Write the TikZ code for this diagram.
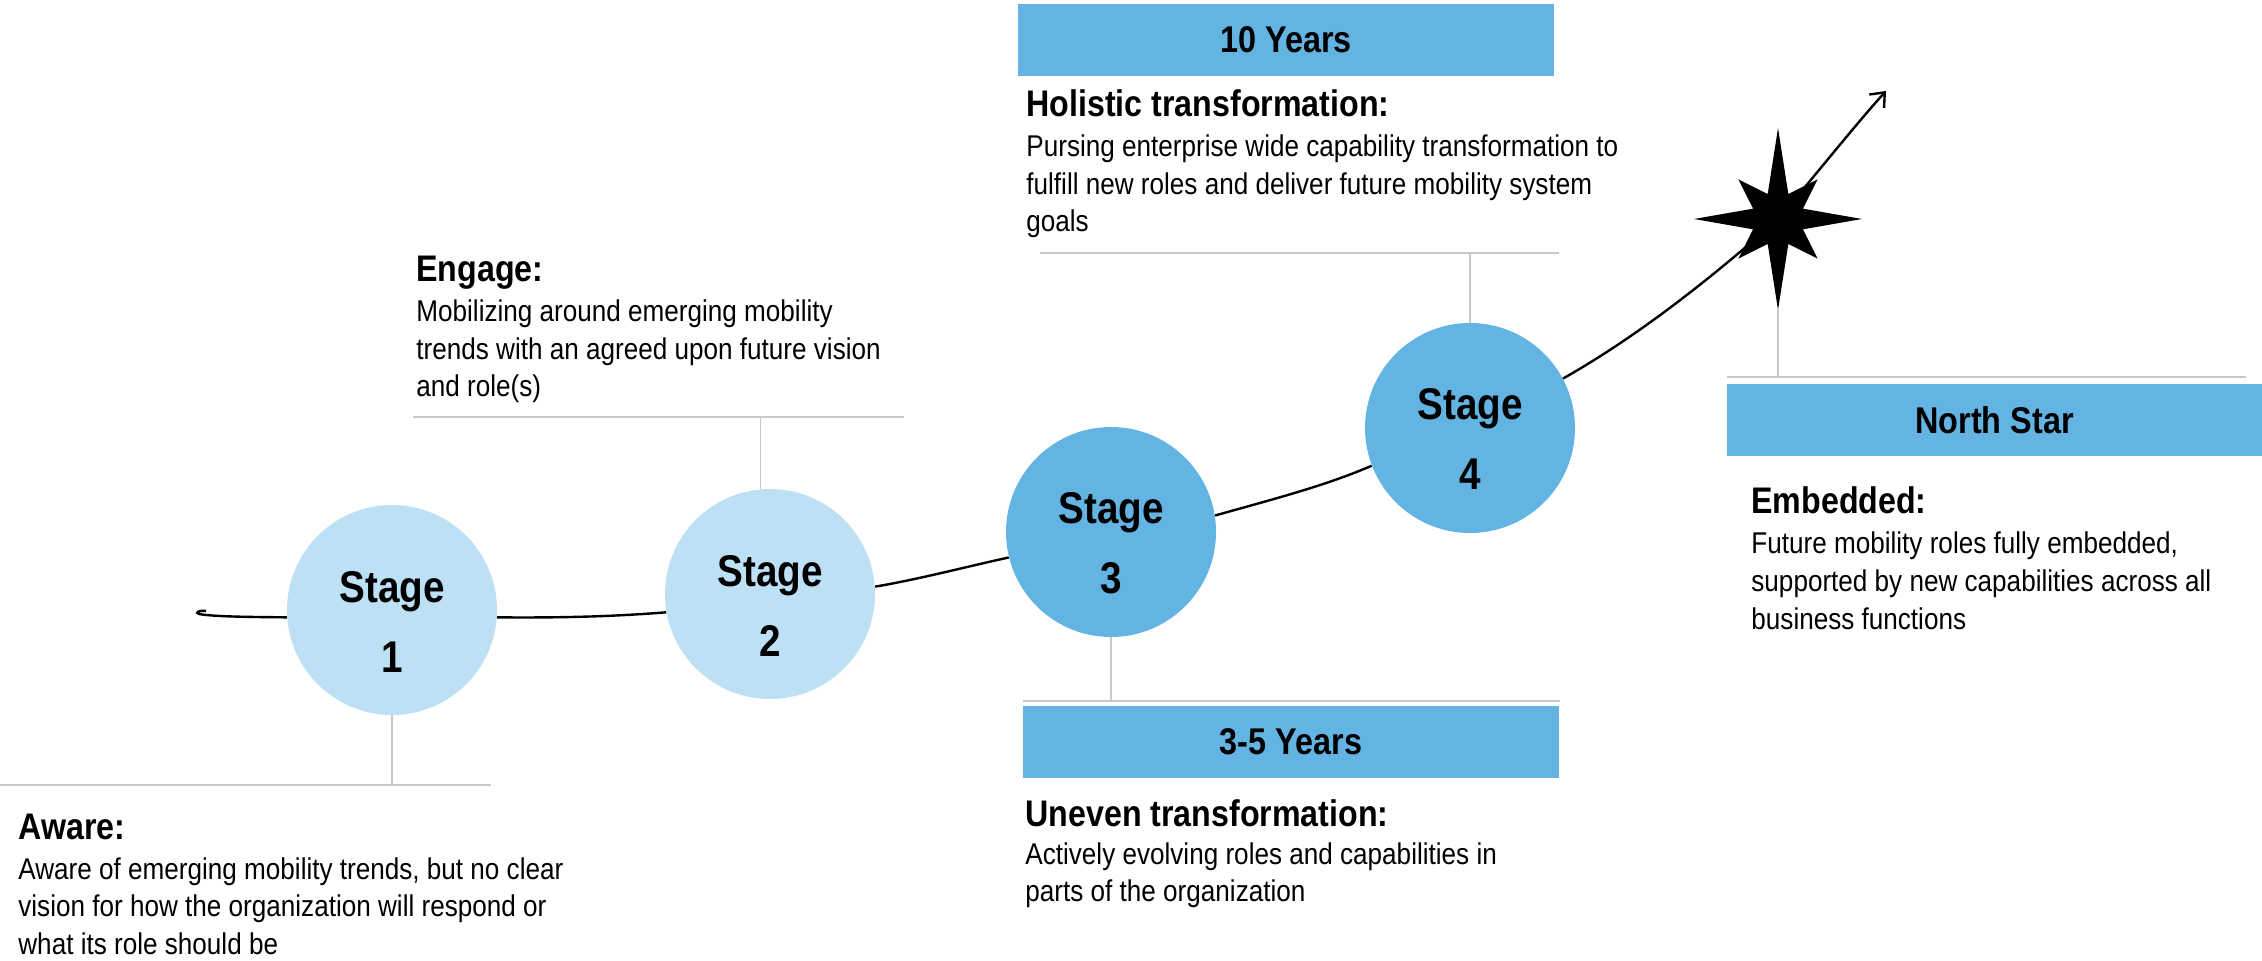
\documentclass[tikz,border=0pt]{standalone}
\usepackage{fontspec}
\setmainfont{Liberation Sans}[FakeStretch=0.87]
\usetikzlibrary{arrows.meta}
\definecolor{stagelight}{RGB}{190,224,245}
\definecolor{stagemid}{RGB}{99,180,227}
\definecolor{rulegray}{RGB}{200,200,200}
\tikzset{
	stage/.style = {circle, minimum size=105pt, inner sep=0pt},
	stagetxt/.style = {anchor=base, align=center, inner sep=0pt, font=\fontsize{22.2}{35}\selectfont\bfseries},
	yearbox/.style = {fill=stagemid, minimum width=268pt, minimum height=36pt, inner sep=0pt, font=\fontsize{18.6}{22}\selectfont\bfseries},
	head/.style = {anchor=base west, inner sep=0pt, font=\fontsize{18.5}{22}\selectfont\bfseries},
	body/.style = {anchor=base west, inner sep=0pt, align=left, font=\fontsize{15}{18.75}\selectfont},
	hrule/.style = {rulegray, line width=1pt},
	vtick/.style = {rulegray, line width=0.6pt},
	trend/.style = {line width=1.2pt},
	northstar/.pic = {
		\fill (0:84) -- (22.5:27) -- (45:56) -- (67.5:27) -- (90:91) -- (112.5:27) --
		      (135:56) -- (157.5:27) -- (180:84) -- (202.5:27) -- (225:56) -- (247.5:27) --
		      (270:91) -- (292.5:27) -- (315:56) -- (337.5:27) -- cycle;
	}
}

\begin{document}
\begin{tikzpicture}[x=0.5pt, y=-0.5pt]
	\useasboundingbox (0,0) rectangle (2262,961);
	\foreach \n/\pos/\col in {1/{392,610}/stagelight, 2/{770,594}/stagelight, 3/{1111,532}/stagemid, 4/{1470,428}/stagemid}
	{
		\node[stage, fill=\col] (s\n) at (\pos) {};
		% base of a two-line node sits on its last line
		\node[stagetxt] (t\n) at ([yshift=-31pt]s\n.center) {Stage\\\n};
	}
	% the trend line
	\coordinate (tail) at (199,614);
	\coordinate (hook) at (206,611);
	\coordinate (star) at (1778,219);
	\coordinate (tip) at (1886,91);
	\draw[trend] (s1.184) .. controls (260,617) and (215,617) .. (tail) .. controls (195,613) and (198,610) .. (hook);
	\draw[trend] (s1.-4) .. controls (570,618) and (620,616) .. (s2.190);
	\draw[trend] (s2.4) .. controls (920,579) and (965,567) .. (s3.194);
	\draw[trend] (s3.9) .. controls (1270,500) and (1325,486) .. (s4.201);
	\draw[trend] (s4.28) .. controls (1640,335) and (1715,275) .. (star);
	\draw[trend, -{Straight Barb[length=6pt, width=10pt]}] (star) .. controls (1805,188) and (1855,125) .. (tip);
	\pic at (star) {northstar};
	% boxes
	\node[yearbox] (ten) at (1286,40) {10 Years};
	\node[yearbox] (threefive) at (1291,741.5) {3-5 Years};
	\node[yearbox, minimum width=267.5pt] (north) at (1994.5,420) {North Star};
	% rules and ticks
	\coordinate (awarerule) at (0,785);
	\coordinate (engrule) at (413,417);
	\coordinate (holrule) at (1040,253);
	\coordinate (unrule) at (1023,701);
	\coordinate (embrule) at (1727,377);
	\draw[hrule] (awarerule) -- ++(491,0);
	\draw[hrule] (engrule) -- ++(491,0);
	\draw[hrule] (holrule) -- ++(519,0);
	\draw[hrule] (unrule) -- ++(537,0);
	\draw[hrule] (embrule) -- ++(519,0);
	\draw[vtick] (s1.south) -- (s1.south |- awarerule);
	\draw[vtick] (s2.95) -- (s2.95 |- engrule);
	\draw[vtick] (s3.south) -- (s3.south |- unrule);
	\draw[vtick] (s4.north) -- (s4.north |- holrule);
	\draw[vtick] (star) ++(0,89) -- (star |- embrule);
	% texts (body nodes placed by their last baseline)
	\node[head] (awarehd) at (18,839) {Aware:};
	\node[body] (awaretxt) at (18,954) {Aware of emerging mobility trends, but no clear\\vision for how the organization will respond or\\what its role should be};
	\node[head] (enghd) at (416,282) {Engage:};
	\node[body] (engtxt) at (416,397) {Mobilizing around emerging mobility\\trends with an agreed upon future vision\\and role(s)};
	\node[head] (holhd) at (1026,117) {Holistic transformation:};
	\node[body] (holtxt) at (1026,232) {Pursing enterprise wide capability transformation to\\fulfill new roles and deliver future mobility system\\goals};
	\node[head] (unhd) at (1025,826) {Uneven transformation:};
	\node[body] (untxt) at (1025,901.5) {Actively evolving roles and capabilities in\\parts of the organization};
	\node[head] (embhd) at (1751,514) {Embedded:};
	\node[body] (embtxt) at (1751,629) {Future mobility roles fully embedded,\\supported by new capabilities across all\\business functions};
\end{tikzpicture}
\end{document}
